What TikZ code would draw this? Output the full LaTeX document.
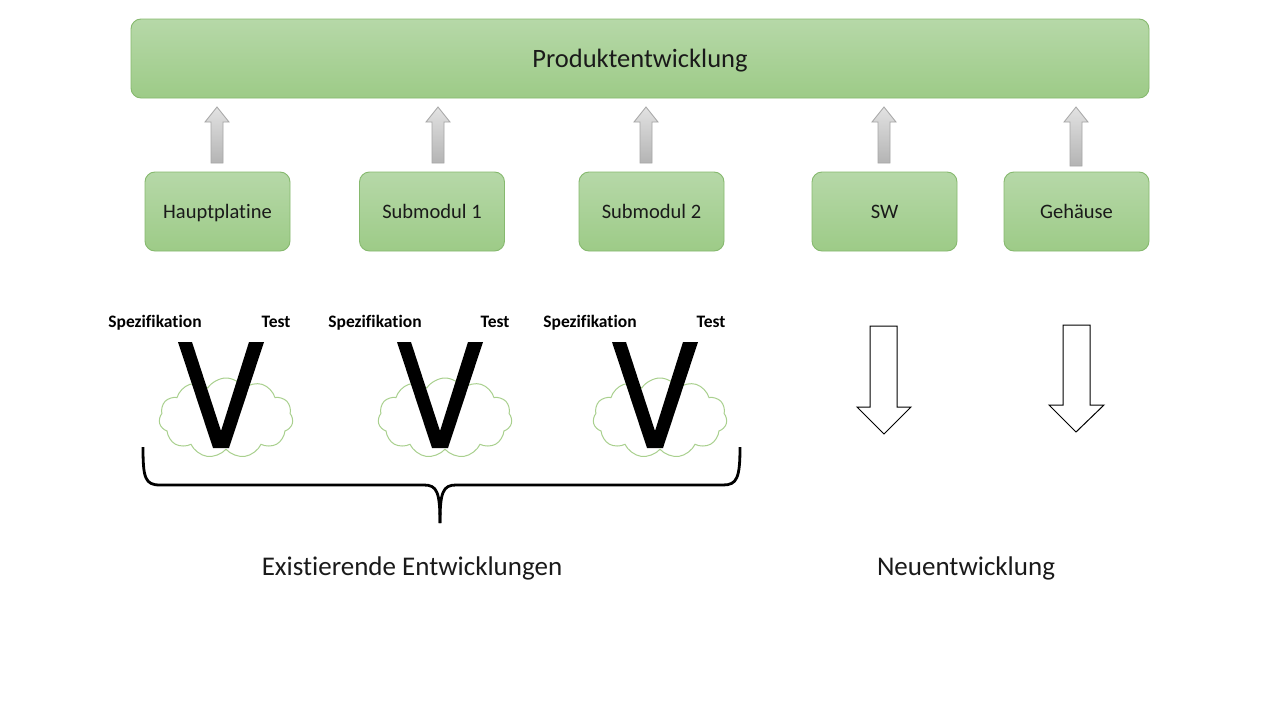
\documentclass[tikz,border=0pt]{standalone}
\usepackage{fontspec}
\setmainfont{Carlito}[Ligatures=NoCommon]
\usetikzlibrary{shapes.symbols}
\definecolor{gtop}{HTML}{B6D8A8}
\definecolor{gbot}{HTML}{9DCB87}
\definecolor{gline}{HTML}{86B96E}
\definecolor{cloudc}{HTML}{A9D08E}
\definecolor{atop}{HTML}{E2E2E2}
\definecolor{abot}{HTML}{B4B4B4}
\definecolor{aline}{HTML}{A6A6A6}
\definecolor{txt}{HTML}{1A1A1A}
\tikzset{
  greenbox/.style={draw=gline, line width=0.9pt, rounded corners=10pt, top color=gtop, bottom color=gbot, text=txt, text depth=0pt},
  modbox/.style={greenbox, minimum width=145pt, minimum height=79pt, inner sep=0pt, font=\fontsize{20.5}{24}\selectfont, text height=13.2pt},
  grayarrow/.style={draw=aline, line width=0.8pt, top color=atop, bottom color=abot},
  hollowarrow/.style={draw=black, line width=1pt, fill=white},
  vlabel/.style={font=\bfseries\fontsize{17.5}{20}\selectfont, text=black, inner sep=0pt, text height=11.3pt, text depth=0pt},
  cloudnode/.style={cloud, cloud puffs=11, cloud puff arc=115, aspect=1.8, draw=cloudc, line width=1pt, minimum width=134pt, minimum height=80pt, inner sep=0pt},
  biglabel/.style={font=\fontsize{27}{30}\selectfont, text=txt, inner sep=0pt, text height=17.4pt, text depth=0pt},
}
\begin{document}
\begin{tikzpicture}[x=1pt,y=-1pt]
\useasboundingbox (0,0) rectangle (1280,720);
\fill[white] (0,0) rectangle (1280,720);
% top bar
\node[greenbox, minimum width=1018pt, minimum height=79pt, inner sep=0pt, font=\fontsize{26.5}{30}\selectfont, text height=17pt] (prod) at (640,58.5) {Produktentwicklung};
% module boxes
\node[modbox] (hp) at (217.5,211.5) {Hauptplatine};
\node[modbox] (sm1) at (432,211.5) {Submodul 1};
\node[modbox] (sm2) at (651.5,211.5) {Submodul 2};
\node[modbox] (sw) at (884.5,211.5) {SW};
\node[modbox] (geh) at (1076.5,211.5) {Gehäuse};
% gray up arrows
\foreach \x/\yb in {217/163,438/163,646/163,884/163,1076/166}{
  \draw[grayarrow] (\x-6,\yb) -- (\x-6,122) -- (\x-12,122) -- (\x,107) -- (\x+12,122) -- (\x+6,122) -- (\x+6,\yb) -- cycle;
}
% V groups
\foreach \dx [count=\i] in {0,219,434}{
  \node[cloudnode] (cl\i) at (226+\dx,418) {};
  \fill[black] (178+\dx,342) -- (192+\dx,342) -- (221+\dx,431) -- (249+\dx,342) -- (264+\dx,342) -- (229+\dx,448) -- (213+\dx,448) -- cycle;
}
\node[vlabel] (s1) at (155,322) {Spezifikation};
\node[vlabel] (t1) at (276,322) {Test};
\node[vlabel] (s2) at (375,322) {Spezifikation};
\node[vlabel] (t2) at (495,322) {Test};
\node[vlabel] (s3) at (590,322) {Spezifikation};
\node[vlabel] (t3) at (711,322) {Test};
% brace
\draw[line width=2.8pt, line join=round] (143,447) .. controls (143,478) and (145,485) .. (160,485) -- (424,485) .. controls (437,485) and (440,492) .. (440,523);
\draw[line width=2.8pt, line join=round] (440,523) .. controls (440,492) and (443,485) .. (456,485) -- (723,485) .. controls (737,485) and (740,478) .. (740,447);
% hollow arrows
\draw[hollowarrow] (870,326) -- (897,326) -- (897,407) -- (911,407) -- (884,434) -- (857,407) -- (870,407) -- cycle;
\draw[hollowarrow] (1063,325) -- (1090,325) -- (1090,405) -- (1104,405) -- (1076,432) -- (1049,405) -- (1063,405) -- cycle;
% labels
\node[biglabel] (ex) at (412,567) {Existierende Entwicklungen};
\node[biglabel] (ne) at (966,567) {Neuentwicklung};
\end{tikzpicture}
\end{document}
